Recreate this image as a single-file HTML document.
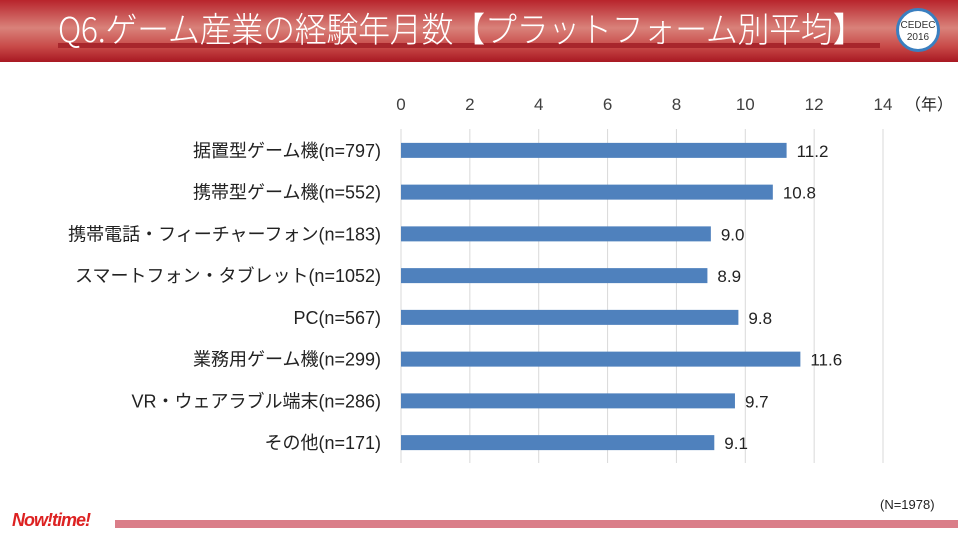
<!DOCTYPE html>
<html><head><meta charset="utf-8">
<style>
body{margin:0;width:958px;height:538px;overflow:hidden;background:#fff;font-family:"Liberation Sans","Noto Sans CJK JP",sans-serif;position:relative}
#header{position:absolute;left:0;top:0;width:958px;height:62px;background:linear-gradient(to bottom,#b8242c 0%,#d9827a 45%,#c84a48 75%,#a81822 100%)}
#title{position:absolute;left:58px;top:3px;font-size:32px;color:#fff;white-space:nowrap;letter-spacing:-0.3px;font-family:"Noto Sans CJK JP",sans-serif;font-weight:300;transform:scaleY(1.08);transform-origin:left top}
#title-bar{position:absolute;left:58px;top:43px;width:822px;height:5px;background:#a8262c}
#logo{position:absolute;left:896px;top:8px;width:44px;height:44px;border-radius:50%;border:3px solid #3a7fc0;box-sizing:border-box;background:#fff;font-size:10px;text-align:center;line-height:12px;padding-top:9px;color:#333}
#footer-bar{position:absolute;left:115px;top:520px;width:843px;height:8px;background:#da7e89}
#brand{position:absolute;left:12px;top:510px;font-size:18px;font-style:italic;font-weight:bold;color:#d22;letter-spacing:-1px}
#n-note{position:absolute;left:880px;top:497px;font-size:13px;color:#222}
svg{position:absolute;left:0;top:0}
</style></head><body>
<div id="header"></div>
<div id="title-bar"></div>
<div id="title">Q6.ゲーム産業の経験年月数【プラットフォーム別平均】</div>
<div id="logo">CEDEC<br>2016</div>
<svg id="chart" width="958" height="538"></svg>
<div id="brand">Now!time!</div>
<div id="footer-bar"></div>
<div id="n-note">(N=1978)</div>
<script>
const categories=["据置型ゲーム機(n=797)","携帯型ゲーム機(n=552)","携帯電話・フィーチャーフォン(n=183)","スマートフォン・タブレット(n=1052)","PC(n=567)","業務用ゲーム機(n=299)","VR・ウェアラブル端末(n=286)","その他(n=171)"];
const values=[11.2,10.8,9.0,8.9,9.8,11.6,9.7,9.1];
const ticks=[0,2,4,6,8,10,12,14];
const NS="http://www.w3.org/2000/svg";
const chartSvg=document.getElementById("chart");
const x0=401,x1=883,vmax=14,yTop=129,yBottom=463;
const xs=v=>x0+(x1-x0)*v/vmax;
const band=(yBottom-yTop)/categories.length;
const yc=i=>yTop+band*(i+0.5);
function mk(t,a){const e=document.createElementNS(NS,t);for(const k in a)e.setAttribute(k,a[k]);chartSvg.appendChild(e);return e;}
ticks.forEach(t=>{
  const g=mk("line",{x1:xs(t),x2:xs(t),y1:yTop,y2:yBottom,stroke:"#d9d9d9","stroke-width":1});
  
  
  const l=mk("text",{x:xs(t),y:110,"text-anchor":"middle","font-size":17,fill:"#404040"});
  l.textContent=t;
  
  
});
const unit=mk("text",{x:xs(14)+22,y:110,"font-size":16,fill:"#222","font-family":"Noto Sans CJK JP, sans-serif"});
unit.textContent="（年）";


categories.forEach((c,i)=>{
  const y=yc(i);
  const b=mk("rect",{x:x0,y:y-7,width:xs(values[i])-x0,height:15,fill:"#4f81bd"});
  
  
  const t=mk("text",{x:381,y:y+7,"text-anchor":"end","font-size":18,fill:"#222"});
  t.textContent=c;
  
  
  const v=mk("text",{x:xs(values[i])+10,y:y+7,"font-size":17,fill:"#222"});
  v.textContent=values[i].toFixed(1);
  
  
});
</script>
</body></html>
